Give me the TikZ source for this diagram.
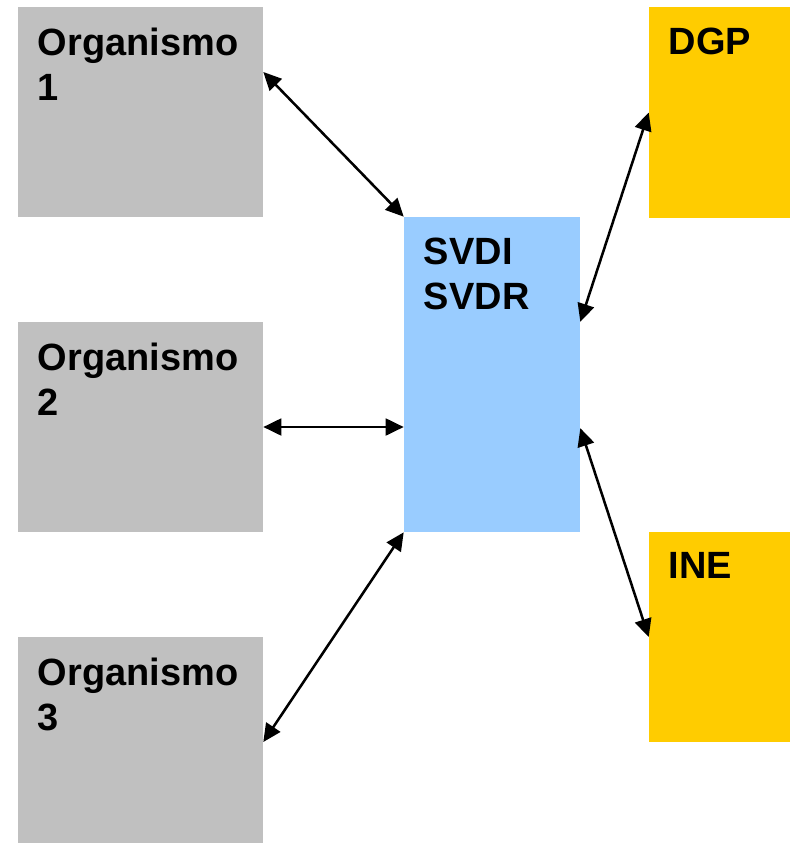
\documentclass[tikz,border=0pt]{standalone}
\usepackage{fontspec}
\setmainfont{Liberation Sans}
\usepackage{xcolor}
\usepackage{tikz}
\usetikzlibrary{arrows.meta,positioning,calc}
\definecolor{orggray}{HTML}{C0C0C0}
\definecolor{svdblue}{HTML}{99CCFF}
\definecolor{extgold}{HTML}{FFCC00}
\tikzstyle{organismo} = [rectangle, minimum width=6.125cm, minimum height=5.25cm, inner sep=0pt, fill=orggray]
\tikzstyle{svd} = [rectangle, minimum width=4.4cm, minimum height=7.875cm, inner sep=0pt, fill=svdblue]
\tikzstyle{externo} = [rectangle, minimum width=3.525cm, minimum height=5.25cm, inner sep=0pt, fill=extgold]
\tikzstyle{boxtext} = [anchor=north west, align=left, inner xsep=0.5cm, inner ysep=0.52cm, font=\fontsize{27}{32}\selectfont\bfseries]
\tikzstyle{arrow} = [line width=1.8pt, {Triangle[length=0.45cm,width=0.42cm]}-{Triangle[length=0.45cm,width=0.42cm]}]

\begin{document}
\begin{tikzpicture}[x=0.025cm, y=-0.025cm]
\useasboundingbox (0,0) rectangle (790,843);

% Organismos
\node (org1) [organismo, label={[boxtext]north west:Organismo\\1}] at (140.5,112) {};
\node (org2) [organismo, label={[boxtext]north west:Organismo\\2}] at (140.5,427) {};
\node (org3) [organismo, label={[boxtext]north west:Organismo\\3}] at (140.5,742) {};

% Nodo central
\node (svd) [svd, label={[boxtext]north west:SVDI\\SVDR}] at (492,374.5) {};

% Externos
\node (dgp) [externo, label={[boxtext]north west:DGP}] at (719.5,112.5) {};
\node (ine) [externo, label={[boxtext]north west:INE}] at (719.5,637) {};

% Relaciones
\draw [arrow] ($(org1.north east)!0.31!(org1.south east)$) -- (svd.north west);
\draw [arrow] (org2.east) -- (org2.east -| svd.west);
\draw [arrow] (org3.east) -- (svd.south west);
\draw [arrow] (dgp.west) -- ($(svd.north east)!0.333!(svd.south east)$);
\draw [arrow] (ine.west) -- ($(svd.north east)!0.67!(svd.south east)$);

\end{tikzpicture}
\end{document}
